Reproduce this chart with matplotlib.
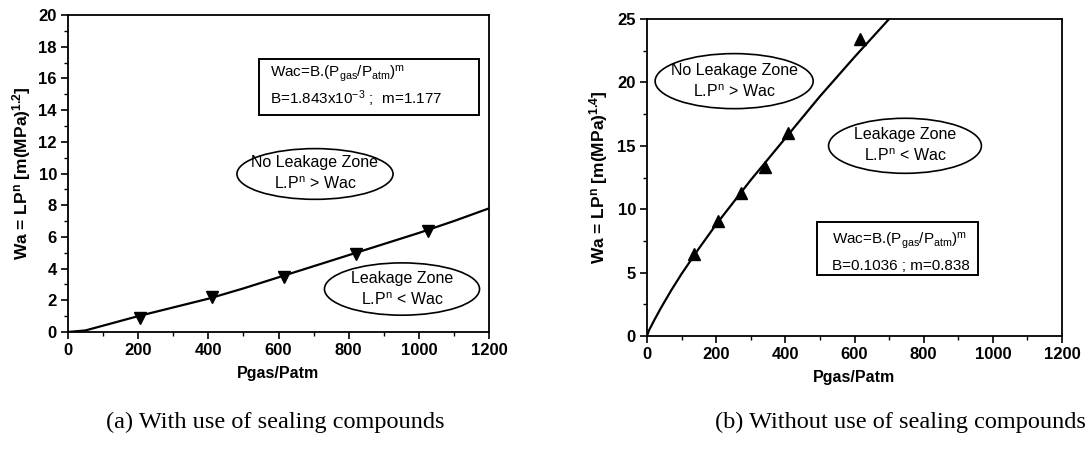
import matplotlib.pyplot as plt
from matplotlib.patches import Ellipse, Rectangle
from matplotlib.ticker import MultipleLocator

plt.rcParams['font.family'] = ['Liberation Sans', 'DejaVu Sans']
plt.rcParams['mathtext.fontset'] = 'custom'
plt.rcParams['mathtext.rm'] = 'Liberation Sans'
plt.rcParams['mathtext.it'] = 'Liberation Sans'
plt.rcParams['mathtext.bf'] = 'Liberation Sans:bold'

# (a) with sealing compounds
a_px = [205, 410, 615, 820, 1025]
a_wa = [0.9, 2.2, 3.5, 4.95, 6.35]
a_fit_x = [0, 50, 100, 200, 300, 400, 500, 600, 700, 800, 900, 1000, 1100, 1200]
a_fit_y = [0, 0.1, 0.4, 1.0, 1.55, 2.1, 2.75, 3.45, 4.15, 4.85, 5.55, 6.25, 7.0, 7.8]

# (b) without sealing compounds
b_px = [135, 205, 272, 340, 408, 615]
b_wa = [6.5, 9.1, 11.3, 13.3, 16.0, 23.4]
b_fit_x = [0, 5, 20, 40, 70, 100, 150, 200, 300, 400, 500, 600, 700]
b_fit_y = [0, 0.4, 1.2, 2.2, 3.6, 4.9, 6.9, 8.8, 12.3, 15.6, 18.9, 22.0, 25.0]

captions = ['(a) With use of sealing compounds', '(b) Without use of sealing compounds']

fig = plt.figure(figsize=(10.91, 4.57), dpi=100)
W, H = 1091, 457
ax1 = fig.add_axes([68 / W, 1 - 332 / H, 421 / W, 317 / H])
ax2 = fig.add_axes([647 / W, 1 - 336 / H, 415 / W, 317 / H])


def style(ax, ymax, ymaj, ymin):
    ax.set_xlim(0, 1200)
    ax.set_ylim(0, ymax)
    ax.xaxis.set_major_locator(MultipleLocator(200))
    ax.xaxis.set_minor_locator(MultipleLocator(100))
    ax.yaxis.set_major_locator(MultipleLocator(ymaj))
    ax.yaxis.set_minor_locator(MultipleLocator(ymin))
    ax.tick_params(which='major', direction='out', length=5, width=1.2,
                   labelsize=12, pad=3)
    ax.tick_params(which='minor', direction='out', length=3, width=1.0)
    for lab in ax.get_xticklabels() + ax.get_yticklabels():
        lab.set_fontweight('bold')
    for s in ax.spines.values():
        s.set_linewidth(1.3)
    ax.set_xlabel('Pgas/Patm', fontsize=11.5, fontweight='bold', labelpad=6)


def zone(ax, cx, cy, w, h, txt):
    ax.add_patch(Ellipse((cx, cy), w, h, fill=False, ec='black', lw=1.2))
    ax.text(cx, cy, txt, ha='center', va='center', fontsize=11.5, linespacing=1.4)


def fitbox(ax, x0, x1, y0, y1, tx, ty1, ty2, l1, l2):
    ax.add_patch(Rectangle((x0, y0), x1 - x0, y1 - y0, transform=ax.transAxes,
                           fill=True, fc='white', ec='black', lw=1.4, zorder=3))
    ax.text(tx, ty1, l1, transform=ax.transAxes, fontsize=11, va='center', zorder=4)
    ax.text(tx, ty2, l2, transform=ax.transAxes, fontsize=11, va='center', zorder=4)


style(ax1, 20, 2, 1)
ax1.plot(a_fit_x, a_fit_y, color='black', lw=1.6)
ax1.plot(a_px, a_wa, linestyle='none', marker='v', color='black', markersize=8)
ax1.set_ylabel(r'Wa = LP$^{\mathbf{n}}$ [m(MPa)$^{\mathbf{1.2}}$]', fontsize=12.5,
               fontweight='bold', labelpad=4)
fitbox(ax1, 0.454, 0.976, 0.685, 0.861, 0.48, 0.815, 0.735,
       'Wac=B.(P$_{gas}$/P$_{atm}$)$^{m}$', 'B=1.843x10$^{-3}$ ;  m=1.177')
zone(ax1, 704, 9.97, 445, 3.2, 'No Leakage Zone\nL.P$^{n}$ > Wac')
zone(ax1, 952, 2.71, 442, 3.3, 'Leakage Zone\nL.P$^{n}$ < Wac')

style(ax2, 25, 5, 2.5)
ax2.plot(b_fit_x, b_fit_y, color='black', lw=1.6)
ax2.plot(b_px, b_wa, linestyle='none', marker='^', color='black', markersize=8)
ax2.set_ylabel(r'Wa = LP$^{\mathbf{n}}$ [m(MPa)$^{\mathbf{1.4}}$]', fontsize=12.5,
               fontweight='bold', labelpad=5)
fitbox(ax2, 0.41, 0.797, 0.192, 0.36, 0.446, 0.30, 0.222,
       'Wac=B.(P$_{gas}$/P$_{atm}$)$^{m}$', 'B=0.1036 ; m=0.838')
zone(ax2, 252, 20.1, 457, 4.34, 'No Leakage Zone\nL.P$^{n}$ > Wac')
zone(ax2, 746, 15.0, 442, 4.34, 'Leakage Zone\nL.P$^{n}$ < Wac')

for cx, cap in zip([275, 900], captions):
    fig.text(cx / W, 1 - 422 / H, cap, ha='center', va='center',
             fontsize=17.5, family=['Liberation Serif', 'DejaVu Serif'])

fig.savefig('out.png', dpi=100)
